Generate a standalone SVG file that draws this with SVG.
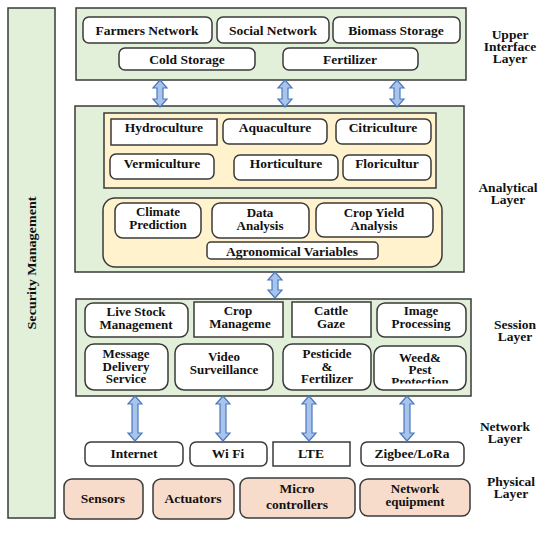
<svg xmlns="http://www.w3.org/2000/svg" width="550" height="533" viewBox="0 0 550 533">
<defs>
<style>
.layer{fill:#e2efd9;stroke:#3a3a3a;stroke-width:1.5}
.cream{fill:#fff2cc;stroke:#3a3a3a;stroke-width:1.5}
.box{fill:#ffffff;stroke:#3a3a3a;stroke-width:1.5}
.peach{fill:#f8dccb;stroke:#3a3a3a;stroke-width:1.5}
.arr{fill:#a9c4eb;stroke:#4a78c0;stroke-width:1.2}
text{font-family:"Liberation Serif","Times New Roman",serif;font-weight:bold;font-size:13.5px;fill:#111111;text-anchor:middle}
.ml{font-size:13px}
.lbl{font-size:13.5px}
</style>
<clipPath id="clipWeed"><rect x="374" y="346" width="92" height="37.5"/></clipPath>
<clipPath id="clipCrop"><rect x="194" y="302" width="89" height="35"/></clipPath>
</defs>
<rect width="550" height="533" fill="#ffffff"/>

<g id="security">
<rect class="layer" x="8" y="8" width="47" height="510"/>
<text transform="translate(36,263) rotate(-90)" font-size="17" textLength="133" lengthAdjust="spacingAndGlyphs">Security Management</text>
</g>

<g id="upper-layer">
<rect class="layer" x="76" y="8" width="390" height="72"/>
</g>
<g id="farmers-network"><rect class="box" x="83" y="17" width="129" height="26" rx="6"/><text x="147" y="34.5">Farmers Network</text></g>
<g id="social-network"><rect class="box" x="217" y="17" width="112" height="26" rx="6"/><text x="273" y="34.5">Social Network</text></g>
<g id="biomass-storage"><rect class="box" x="333" y="17" width="127" height="26" rx="6"/><text x="396" y="34.5">Biomass Storage</text></g>
<g id="cold-storage"><rect class="box" x="119" y="48" width="136" height="22" rx="6"/><text x="187" y="63.5">Cold Storage</text></g>
<g id="fertilizer"><rect class="box" x="283" y="48" width="135" height="22" rx="6"/><text x="350" y="63.5">Fertilizer</text></g>

<g id="analytical-layer">
<rect class="layer" x="75" y="106" width="389" height="166"/>
<rect class="cream" x="104" y="113" width="332" height="75"/>
<rect class="cream" x="103" y="198" width="339" height="69" rx="12"/>
</g>
<g id="hydroculture"><rect class="box" x="111" y="119" width="106" height="26"/><text x="164" y="132">Hydroculture</text></g>
<g id="aquaculture"><rect class="box" x="223" y="119" width="104" height="25" rx="6"/><text x="275" y="132">Aquaculture</text></g>
<g id="citriculture"><rect class="box" x="336" y="119" width="95" height="25" rx="6"/><text x="383" y="132">Citriculture</text></g>
<g id="vermiculture"><rect class="box" x="110" y="154" width="104" height="25" rx="6"/><text x="162" y="168">Vermiculture</text></g>
<g id="horticulture"><rect class="box" x="234" y="155" width="104" height="25" rx="6"/><text x="286" y="168">Horticulture</text></g>
<g id="floricultur"><rect class="box" x="343" y="155" width="88" height="25" rx="6"/><text x="387" y="168">Floricultur</text></g>
<g id="climate-prediction"><rect class="box" x="115" y="203" width="86" height="35" rx="8"/><text class="ml" x="158" y="216">Climate</text><text class="ml" x="158" y="229">Prediction</text></g>
<g id="data-analysis"><rect class="box" x="212" y="203" width="97" height="35" rx="8"/><text class="ml" x="260" y="217">Data</text><text class="ml" x="260" y="229.5">Analysis</text></g>
<g id="crop-yield-analysis"><rect class="box" x="316" y="203" width="117" height="34" rx="8"/><text class="ml" x="374" y="217">Crop Yield</text><text class="ml" x="374" y="229.5">Analysis</text></g>
<g id="agronomical-variables"><rect class="box" x="207" y="242" width="171" height="17" rx="4"/><text x="292" y="256">Agronomical Variables</text></g>

<g id="session-layer">
<rect class="layer" x="76" y="299" width="395" height="97"/>
</g>
<g id="live-stock-management"><rect class="box" x="85" y="303" width="103" height="34" rx="8"/><text class="ml" x="136" y="316">Live Stock</text><text class="ml" x="136" y="328.5">Management</text></g>
<g id="crop-management"><rect class="box" x="194" y="302" width="89" height="35"/><g clip-path="url(#clipCrop)"><text class="ml" x="238" y="315">Crop</text><text class="ml" x="240" y="327.5">Manageme</text></g></g>
<g id="cattle-gaze"><rect class="box" x="292" y="302" width="79" height="35"/><text class="ml" x="331" y="315">Cattle</text><text class="ml" x="331" y="327.5">Gaze</text></g>
<g id="image-processing"><rect class="box" x="377" y="303" width="89" height="34" rx="8"/><text class="ml" x="421" y="315">Image</text><text class="ml" x="421" y="327.5">Processing</text></g>
<g id="message-delivery"><rect class="box" x="85" y="344" width="83" height="46" rx="9"/><text class="ml" x="126" y="358">Message</text><text class="ml" x="126" y="370.5">Delivery</text><text class="ml" x="126" y="383">Service</text></g>
<g id="video-surveillance"><rect class="box" x="175" y="344" width="98" height="46" rx="9"/><text class="ml" x="224" y="361">Video</text><text class="ml" x="224" y="373.5">Surveillance</text></g>
<g id="pesticide-fertilizer"><rect class="box" x="283" y="344" width="88" height="46" rx="9"/><text class="ml" x="327" y="358">Pesticide</text><text class="ml" x="327" y="370.5">&amp;</text><text class="ml" x="327" y="383">Fertilizer</text></g>
<g id="weed-pest-protection"><rect class="box" x="374" y="346" width="92" height="44" rx="9"/><g clip-path="url(#clipWeed)"><text class="ml" x="420" y="362">Weed&amp;</text><text class="ml" x="420" y="374">Pest</text><text class="ml" x="420" y="386">Protection</text></g></g>

<g id="internet"><rect class="box" x="85" y="442" width="98" height="24" rx="6"/><text x="134" y="458">Internet</text></g>
<g id="wifi"><rect class="box" x="190" y="442" width="77" height="24" rx="6"/><text x="228" y="458">Wi Fi</text></g>
<g id="lte"><rect class="box" x="273" y="442" width="77" height="24"/><text x="311" y="458">LTE</text></g>
<g id="zigbee-lora"><rect class="box" x="361" y="442" width="103" height="24" rx="6"/><text x="412" y="458">Zigbee/LoRa</text></g>

<g id="sensors"><rect class="peach" x="64" y="479" width="79" height="40" rx="8"/><text x="103" y="503">Sensors</text></g>
<g id="actuators"><rect class="peach" x="153" y="479" width="81" height="40" rx="8"/><text x="193" y="503">Actuators</text></g>
<g id="micro-controllers"><rect class="peach" x="240" y="478" width="115" height="40" rx="8"/><text x="297" y="493">Micro</text><text x="297" y="509">controllers</text></g>
<g id="network-equipment"><rect class="peach" x="360" y="479" width="110" height="37" rx="8"/><text class="ml" x="415" y="493">Network</text><text class="ml" x="415" y="505.5">equipment</text></g>

<g id="labels">
<text class="lbl" x="510" y="39">Upper</text><text class="lbl" x="510" y="51">Interface</text><text class="lbl" x="510" y="63">Layer</text>
<text class="lbl" x="508" y="192">Analytical</text><text class="lbl" x="508" y="204">Layer</text>
<text class="lbl" x="515" y="329">Session</text><text class="lbl" x="515" y="341">Layer</text>
<text class="lbl" x="505" y="431">Network</text><text class="lbl" x="505" y="443">Layer</text>
<text class="lbl" x="511" y="486">Physical</text><text class="lbl" x="511" y="498">Layer</text>
</g>

<g id="connectors">
<path class="arr" d="M160,80 L167,88 L163,88 L163,99 L167,99 L160,107 L153,99 L157,99 L157,88 L153,88 Z"/>
<path class="arr" d="M285,80 L292,88 L288,88 L288,99 L292,99 L285,107 L278,99 L282,99 L282,88 L278,88 Z"/>
<path class="arr" d="M397,80 L404,88 L400,88 L400,99 L404,99 L397,107 L390,99 L394,99 L394,88 L390,88 Z"/>
<path class="arr" d="M275,272 L282,280 L278,280 L278,290 L282,290 L275,298 L268,290 L272,290 L272,280 L268,280 Z"/>
<path class="arr" d="M135,396 L142,404 L138,404 L138,433 L142,433 L135,441 L128,433 L132,433 L132,404 L128,404 Z"/>
<path class="arr" d="M223,396 L230,404 L226,404 L226,433 L230,433 L223,441 L216,433 L220,433 L220,404 L216,404 Z"/>
<path class="arr" d="M309,396 L316,404 L312,404 L312,433 L316,433 L309,441 L302,433 L306,433 L306,404 L302,404 Z"/>
<path class="arr" d="M407,396 L414,404 L410,404 L410,433 L414,433 L407,441 L400,433 L404,433 L404,404 L400,404 Z"/>
</g>
</svg>
